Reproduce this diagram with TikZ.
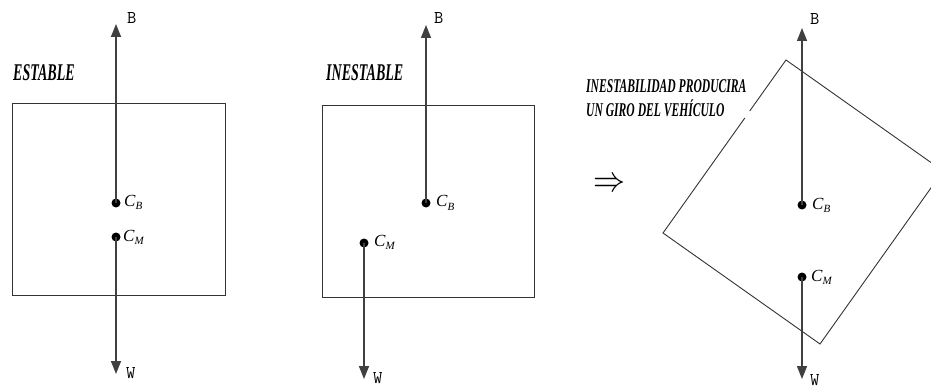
\documentclass[tikz,border=0pt]{standalone}
\usepackage{fontspec}
\setmainfont{Liberation Serif}
\usetikzlibrary{arrows.meta}
\newcommand\ttlA[1]{\scalebox{1.40}[2.4]{\bfseries\itshape #1}}
\newcommand\ttlB[1]{\scalebox{1.16}[1.95]{\bfseries\itshape #1}}
\newcommand\cx[1]{{\fontsize{17}{17}\selectfont\itshape C}\raisebox{-3.5pt}{\fontsize{11}{11}\selectfont\itshape #1}}
\begin{document}
\begin{tikzpicture}[x=1pt,y=-1pt,
  box/.style={draw=black!80,line width=1pt},
  force/.style={draw=black!75,line width=1.5pt,-{Triangle[length=13pt,width=10pt]}},
  pt/.style={circle,fill=black,inner sep=0pt,minimum size=9pt},
  lab/.style={anchor=base west,inner sep=0pt},
  mono/.style={lab,font=\ttfamily\fontsize{18}{18}\selectfont}]
\useasboundingbox (0,0) rectangle (931,390);
\clip (0,0) rectangle (931,390);
% ---------- panel 1: ESTABLE ----------
\draw[box] (12,104) rectangle (225,295);
\node[pt] (cb1) at (116,203) {};
\node[pt] (cm1) at (116,237) {};
\coordinate (b1) at (116,24);
\coordinate (w1) at (116,374);
\draw[force] (cb1.center) -- (b1);
\draw[force] (cm1.center) -- (w1);
\node[lab] (t1) at (13,81) {\ttlA{ESTABLE}};
\node[mono] (lb1) at (127,24) {B};
\node[mono] (lw1) at (126,378) {W};
\node[lab] (lcb1) at (124,206) {\cx{B}};
\node[lab] (lcm1) at (123,241) {\cx{M}};
% ---------- panel 2: INESTABLE ----------
\draw[box] (322,106) rectangle (534,297);
\node[pt] (cb2) at (426,203) {};
\node[pt] (cm2) at (364,243) {};
\coordinate (b2) at (426,25);
\coordinate (w2) at (364,379);
\draw[force] (cb2.center) -- (b2);
\draw[force] (cm2.center) -- (w2);
\node[lab] (t2) at (326,81) {\ttlA{INESTABLE}};
\node[mono] (lb2) at (434,24) {B};
\node[mono] (lw2) at (373,383) {W};
\node[lab] (lcb2) at (436,207) {\cx{B}};
\node[lab] (lcm2) at (374,246) {\cx{M}};
% ---------- arrow between ----------
\node[inner sep=0pt] (impl) at (609,185) {\scalebox{3.2}[3.6]{$\Rightarrow$}};
% ---------- panel 3: tilted ----------
\coordinate (T) at (786,60);
\coordinate (L) at (663,233);
\coordinate (D) at (820,344);
\coordinate (R) at (943,171);
\coordinate (g1) at (749.7,111);
\coordinate (g2) at (744.8,118);
\draw[box,line width=0.9pt] (g2) -- (L) -- (D) -- (R) -- (T) -- (g1);
\node[pt] (cb3) at (802,205) {};
\node[pt] (cm3) at (802,277) {};
\coordinate (b3) at (802,28);
\coordinate (w3) at (802,379);
\draw[force] (cb3.center) -- (b3);
\draw[force] (cm3.center) -- (w3);
\node[lab] (t3a) at (586,93) {\ttlB{INESTABILIDAD PRODUCIRA}};
\node[lab] (t3b) at (586,117) {\ttlB{UN GIRO DEL VEHÍCULO}};
\node[mono] (lb3) at (810,25) {B};
\node[mono] (lw3) at (810,385) {W};
\node[lab] (lcb3) at (812,209) {\cx{B}};
\node[lab] (lcm3) at (811,281) {\cx{M}};
\end{tikzpicture}
\end{document}
